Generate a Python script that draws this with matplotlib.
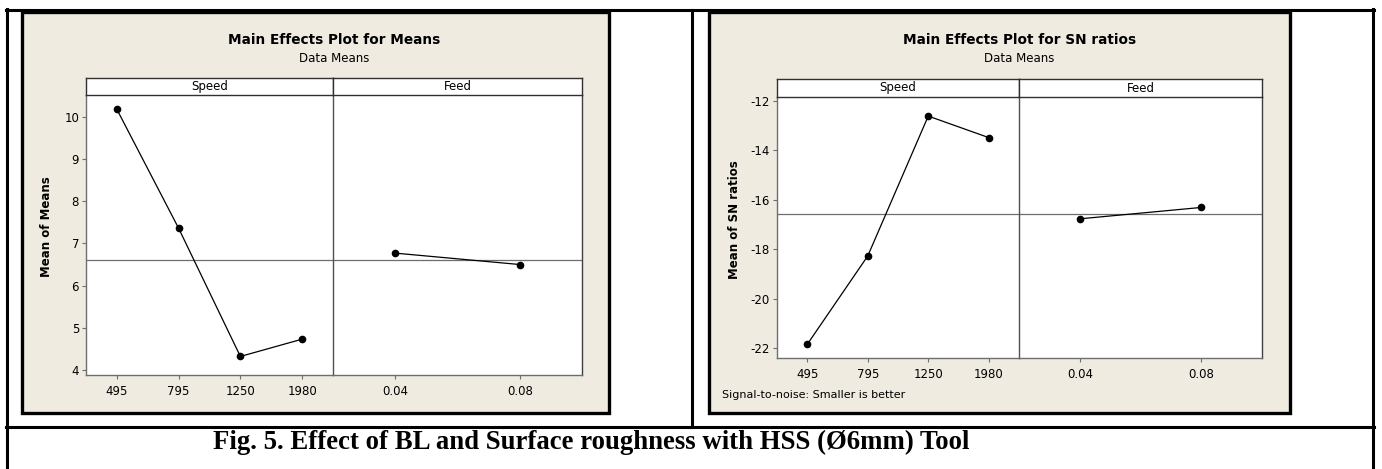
import numpy as np
import matplotlib.pyplot as plt
from matplotlib.patches import Rectangle
from matplotlib.lines import Line2D

W, H = 1382, 469

speed_levels = ["495", "795", "1250", "1980"]
feed_levels = ["0.04", "0.08"]

means_speed = [10.18, 7.36, 4.32, 4.73]
means_feed = [6.77, 6.50]
means_grand = 6.61

sn_speed = [-21.84, -18.27, -12.62, -13.49]
sn_feed = [-16.77, -16.31]
sn_grand = -16.57

BEIGE = "#efebe1"
GREY = "#6e6e6e"


def fx(x):
    return x / W


def fy(y):
    return 1 - y / H


def box(x0, y0, x1, y1):
    return [fx(x0), fy(y1), fx(x1) - fx(x0), fy(y0) - fy(y1)]


def hline(fig, x0, x1, y, lw=2.2, c="black"):
    fig.add_artist(Line2D([fx(x0), fx(x1)], [fy(y), fy(y)], color=c, lw=lw))


def vline(fig, x, y0, y1, lw=2.2, c="black"):
    fig.add_artist(Line2D([fx(x), fx(x)], [fy(y0), fy(y1)], color=c, lw=lw))


def panel(fig, p, title, ylabel, yticks, ylim, sp, fd, grand, note=None):
    # beige background with thick frame
    x0, y0, x1, y1 = p["frame"]
    fig.add_artist(Rectangle((fx(x0), fy(y1)), fx(x1) - fx(x0), fy(y0) - fy(y1),
                             facecolor=BEIGE, edgecolor="black", lw=2.4,
                             transform=fig.transFigure, zorder=0))
    cx = (p["left"] + p["right"]) / 2
    fig.text(fx(cx), fy(40), title, ha="center", va="center",
             fontsize=9.8, fontweight="bold", family="DejaVu Sans")
    fig.text(fx(cx), fy(59), "Data Means", ha="center", va="center",
             fontsize=8.5, family="DejaVu Sans")

    axs = []
    cols = [(p["left"], p["mid"], speed_levels, sp, "Speed"),
            (p["mid"], p["right"], feed_levels, fd, "Feed")]
    for i, (a, b, labels, vals, name) in enumerate(cols):
        ax = fig.add_axes(box(a, p["ax_top"], b, p["ax_bottom"]))
        n = len(labels)
        xs = np.arange(1, n + 1)
        ax.set_xlim(0.5, n + 0.5)
        ax.set_ylim(*ylim)
        ax.axhline(grand, color=GREY, lw=0.9, zorder=1)
        ax.plot(xs, vals, color="black", lw=0.9, marker="o", ms=4.5, zorder=3)
        ax.set_xticks(xs)
        ax.set_xticklabels(labels, fontsize=8.5)
        ax.tick_params(axis="x", length=3, color=GREY, pad=4)
        for s in ax.spines.values():
            s.set_color(GREY)
            s.set_linewidth(1.0)
        ax.spines["top"].set_visible(False)
        if i == 0:
            ax.set_yticks(yticks)
            ax.set_yticklabels([str(t) for t in yticks], fontsize=8.5)
            ax.tick_params(axis="y", length=3, color=GREY, pad=2)
            ax.spines["right"].set_visible(False)
        else:
            ax.set_yticks([])
            ax.spines["left"].set_color("#505050")
            ax.spines["right"].set_color("#404040")
        # strip header
        st = fig.add_axes(box(a, p["strip_top"], b, p["ax_top"]))
        st.set_xticks([])
        st.set_yticks([])
        for s in st.spines.values():
            s.set_color("#303030")
            s.set_linewidth(1.0)
        st.text(0.5, 0.5, name, ha="center", va="center",
                fontsize=8.5, transform=st.transAxes)
        axs.append(ax)

    fig.text(fx(p["ylab_x"]), fy((p["ax_top"] + p["ax_bottom"]) / 2 - 8), ylabel,
             rotation=90, ha="center", va="center", fontsize=8.5,
             fontweight="bold")
    if note:
        fig.text(fx(p["frame"][0] + 13), fy(395), note, ha="left",
                 va="center", fontsize=8)
    return axs


fig = plt.figure(figsize=(W / 100, H / 100), dpi=100)
fig.patch.set_facecolor("white")

# outer table lines
hline(fig, 6, 1374, 10)
hline(fig, 6, 1374, 427)
vline(fig, 7, 9, 469)
vline(fig, 1373, 9, 469)
vline(fig, 692, 10, 427)

left_p = dict(frame=(22, 12, 609, 413), left=86, mid=333, right=582,
              strip_top=78, ax_top=95, ax_bottom=375, ylab_x=47)
right_p = dict(frame=(709, 12, 1290, 413), left=777, mid=1019, right=1262,
               strip_top=79, ax_top=97, ax_bottom=358, ylab_x=735)

panel(fig, left_p, "Main Effects Plot for Means", "Mean of Means",
      [4, 5, 6, 7, 8, 9, 10], (3.88, 10.52), means_speed, means_feed,
      means_grand)
panel(fig, right_p, "Main Effects Plot for SN ratios", "Mean of SN ratios",
      [-22, -20, -18, -16, -14, -12], (-22.39, -11.85), sn_speed, sn_feed,
      sn_grand, note="Signal-to-noise: Smaller is better")

fig.text(fx(213), fy(442),
         "Fig. 5. Effect of BL and Surface roughness with HSS (\u00d86mm) Tool",
         ha="left", va="center", fontsize=19.3, fontweight="bold",
         family="Liberation Serif")

fig.savefig("out.png", dpi=100, facecolor="white")
